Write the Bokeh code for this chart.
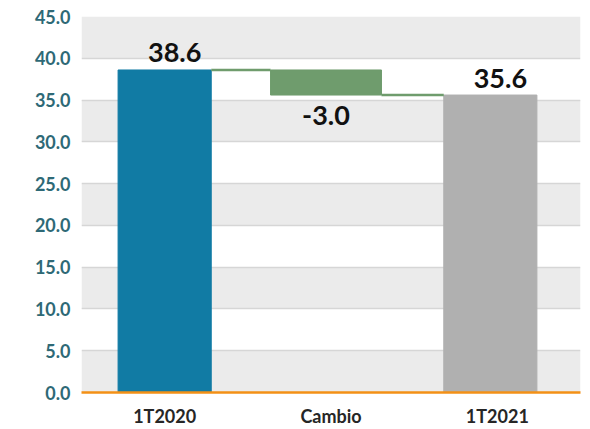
from bokeh.plotting import figure
from bokeh.models import FactorRange, Range1d, FixedTicker, BoxAnnotation, ColumnDataSource
from bokeh.transform import dodge
from bokeh.core.properties import value
from bokeh.embed import file_html
from bokeh.resources import INLINE

categories = ["1T2020", "Cambio", "1T2021"]
start_value = 38.6
change = -3.0
end_value = 35.6
y_ticks = [0, 5, 10, 15, 20, 25, 30, 35, 40, 45]

FONT = "Lato"
SHIFT_MID = -0.03
SHIFT_END = -0.042

p = figure(x_range=FactorRange(*categories), y_range=Range1d(0, 45),
           width=590, height=429, output_backend="svg", toolbar_location=None,
           min_border_left=81, min_border_right=10, min_border_top=16, min_border_bottom=35)
p.outline_line_color = None
p.background_fill_color = "white"

# alternating bands
for lo, hi in zip(y_ticks[0::2], y_ticks[1::2]):
    p.add_layout(BoxAnnotation(bottom=lo, top=hi, fill_color="#ebebeb", fill_alpha=1,
                               line_color=None, level="image"))

p.xgrid.grid_line_color = None
p.ygrid.ticker = FixedTicker(ticks=y_ticks)
p.ygrid.grid_line_color = "#d6d6d6"
p.ygrid.grid_line_width = 1.5

# bars
src_start = ColumnDataSource(dict(x=[categories[0]], top=[start_value],
                                  label=[f"{start_value:.1f}"]))
src_mid = ColumnDataSource(dict(x=[categories[1]], top=[start_value],
                                bottom=[start_value + change], label=[f"{change:.1f}"]))
src_end = ColumnDataSource(dict(x=[categories[2]], top=[end_value],
                                label=[f"{end_value:.1f}"]))

p.vbar(x="x", top="top", bottom=0, width=0.56, color="#117ba4", source=src_start)
p.vbar(x=dodge("x", SHIFT_END, range=p.x_range), top="top", bottom=0, width=0.56,
       color="#b0b0b0", source=src_end)
p.vbar(x=dodge("x", SHIFT_MID, range=p.x_range), top="top", bottom="bottom", width=0.667,
       color="#6f9c6d", source=src_mid)

# connectors
src_c1 = ColumnDataSource(dict(x0=[categories[0]], x1=[categories[1]], y=[start_value]))
p.segment(x0=dodge("x0", 0.28, range=p.x_range), x1=dodge("x1", SHIFT_MID - 0.333, range=p.x_range),
          y0="y", y1="y", source=src_c1, line_color="#6f9c6d", line_width=2.5)
src_c2 = ColumnDataSource(dict(x0=[categories[1]], x1=[categories[2]], y=[end_value]))
p.segment(x0=dodge("x0", SHIFT_MID + 0.333, range=p.x_range), x1=dodge("x1", SHIFT_END - 0.28, range=p.x_range),
          y0="y", y1="y", source=src_c2, line_color="#6f9c6d", line_width=2.5)

# value labels
lab = dict(text_font=value(FONT), text_font_style="bold", text_font_size="27px",
           text_color="#111111", text_align="center", text_baseline="alphabetic")
p.text(x="x", y="top", text="label", source=src_start,
       x_offset=10, y_offset=-17, **lab)
p.text(x=dodge("x", SHIFT_END, range=p.x_range), y="top", text="label",
       source=src_end, x_offset=10, y_offset=-17, **lab)
p.text(x=dodge("x", SHIFT_MID, range=p.x_range), y="bottom", text="label",
       source=src_mid, y_offset=20, **lab)

# axes
p.yaxis.ticker = FixedTicker(ticks=y_ticks)
p.yaxis.major_label_overrides = {t: f"{t:.1f}" for t in y_ticks}
p.yaxis.axis_line_color = None
p.yaxis.major_tick_line_color = None
p.yaxis.minor_tick_line_color = None
p.yaxis.major_tick_out = 0
p.yaxis.major_label_standoff = 11
p.yaxis.major_label_text_font = FONT
p.yaxis.major_label_text_font_style = "bold"
p.yaxis.major_label_text_font_size = "18px"
p.yaxis.major_label_text_color = "#2e6976"

p.xaxis.axis_line_color = "#f39016"
p.xaxis.axis_line_width = 2.5
p.xaxis.major_tick_line_color = None
p.xaxis.major_tick_out = 0
p.xaxis.major_label_standoff = 12
p.xaxis.major_label_text_font = FONT
p.xaxis.major_label_text_font_style = "bold"
p.xaxis.major_label_text_font_size = "18px"
p.xaxis.major_label_text_color = "#262626"

open("out.html", "w").write(file_html(p, INLINE))
